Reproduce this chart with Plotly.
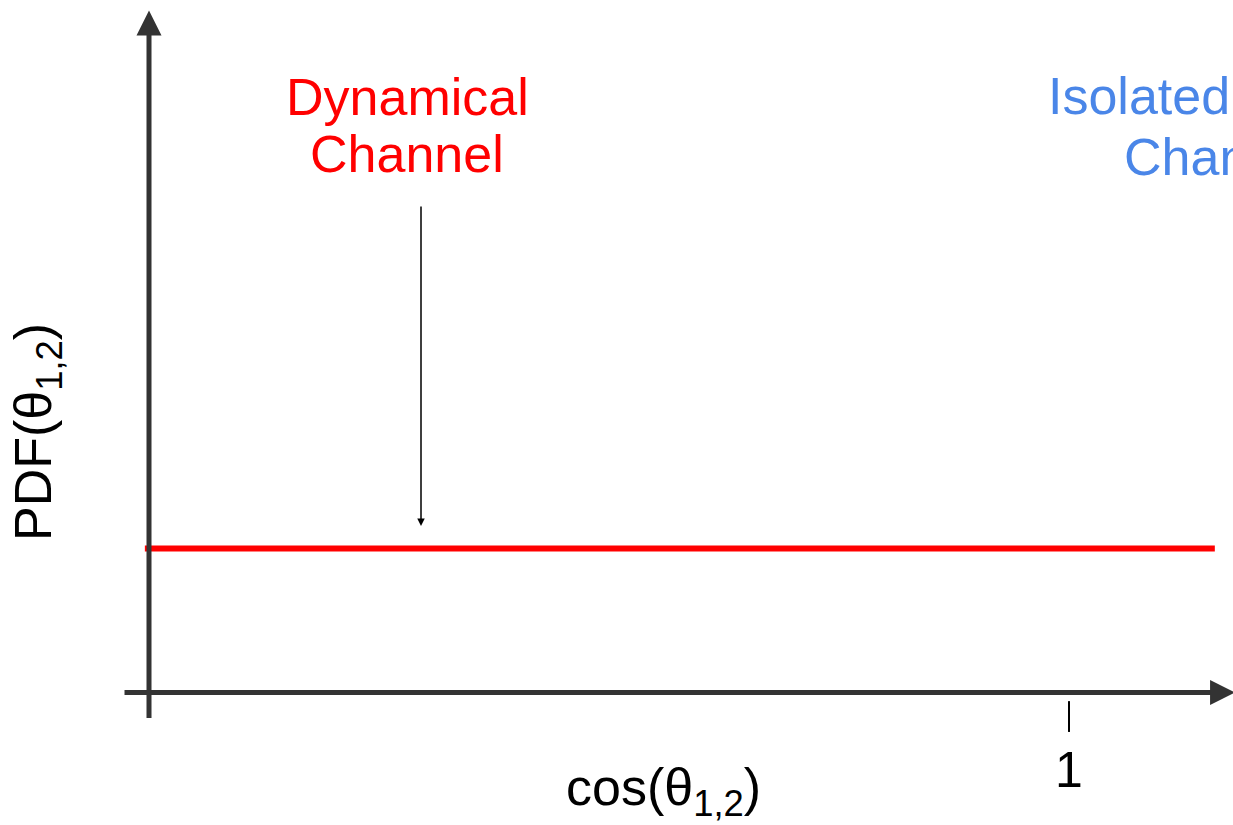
import plotly.graph_objects as go

# schematic values: cos(theta_12) on x, PDF on y
x_range = [-1.3239, 1.3565]
y_range = [-0.4601, 2.4045]

dyn_cos = [-1.009, 1.317]
dyn_pdf = [0.5, 0.5]

tick_vals = [1]
tick_text = ["1"]

FONT = "Liberation Sans, Arial, Helvetica, sans-serif"
AXIS_COLOR = "#333333"
RED = "#ff0000"
BLUE = "#4a86e8"

fig = go.Figure()

# uniform PDF of the dynamical channel
fig.add_trace(go.Scatter(
    x=dyn_cos, y=dyn_pdf, mode="lines",
    line=dict(color=RED, width=6), hoverinfo="skip", showlegend=False,
))

annotations = []

# hand-drawn axes with arrowheads
annotations.append(dict(
    x=-1, y=2.368, ax=-1, ay=-0.094, xref="x", yref="y", axref="x", ayref="y",
    text="", showarrow=True, arrowhead=2, arrowsize=1, arrowwidth=5,
    arrowcolor=AXIS_COLOR, standoff=0,
))
annotations.append(dict(
    x=1.361, y=0, ax=-1.0565, ay=0, xref="x", yref="y", axref="x", ayref="y",
    text="", showarrow=True, arrowhead=2, arrowsize=1, arrowwidth=5,
    arrowcolor=AXIS_COLOR, standoff=0,
))

# pointer to the flat line
annotations.append(dict(
    x=-0.4087, y=0.578, ax=-0.4087, ay=1.693, xref="x", yref="y", axref="x", ayref="y",
    text="", showarrow=True, arrowhead=2, arrowsize=1, arrowwidth=1.5,
    arrowcolor="black", standoff=0,
))

shapes = []
for v, t in zip(tick_vals, tick_text):
    shapes.append(dict(type="line", xref="x", yref="y", x0=v, x1=v, y0=-0.030, y1=-0.137,
                       line=dict(color="black", width=2)))
    annotations.append(dict(x=v, y=-0.268, xref="x", yref="y", text=t, showarrow=False,
                            font=dict(family=FONT, size=50, color="black")))

# labels
annotations += [
    dict(x=-0.4391, y=(692.5 - 97) / 288, xref="x", yref="y", text="Dynamical",
         showarrow=False, font=dict(family=FONT, size=52, color=RED)),
    dict(x=-0.4391, y=(692.5 - 154) / 288, xref="x", yref="y", text="Channel",
         showarrow=False, font=dict(family=FONT, size=52, color=RED)),
    dict(x=0.950, y=(692.5 - 96) / 288, xref="x", yref="y", text="Isolated",
         xanchor="left", showarrow=False, font=dict(family=FONT, size=52, color=BLUE)),
    dict(x=1.115, y=(692.5 - 157) / 288, xref="x", yref="y", text="Channel",
         xanchor="left", showarrow=False, font=dict(family=FONT, size=52, color=BLUE)),
    dict(x=663 / 1233, y=1 - 826 / 825, xref="paper", yref="paper",
         text="cos(θ<sub>1,2</sub>)", showarrow=False,
         font=dict(family=FONT, size=52, color="black")),
    dict(x=2 / 1233, y=1 - 432 / 825, xref="paper", yref="paper",
         text="PDF(θ<sub>1,2</sub>)", textangle=-90, showarrow=False,
         font=dict(family=FONT, size=52, color="black")),
]

fig.update_layout(
    width=1233, height=825,
    margin=dict(l=0, r=0, t=0, b=0),
    paper_bgcolor="white", plot_bgcolor="white",
    xaxis=dict(range=x_range, visible=False, fixedrange=True),
    yaxis=dict(range=y_range, visible=False, fixedrange=True),
    annotations=annotations,
    shapes=shapes,
    showlegend=False,
)

fig.write_html("out.html", config={"displayModeBar": False},
               post_script="document.body.style.margin='0';")
